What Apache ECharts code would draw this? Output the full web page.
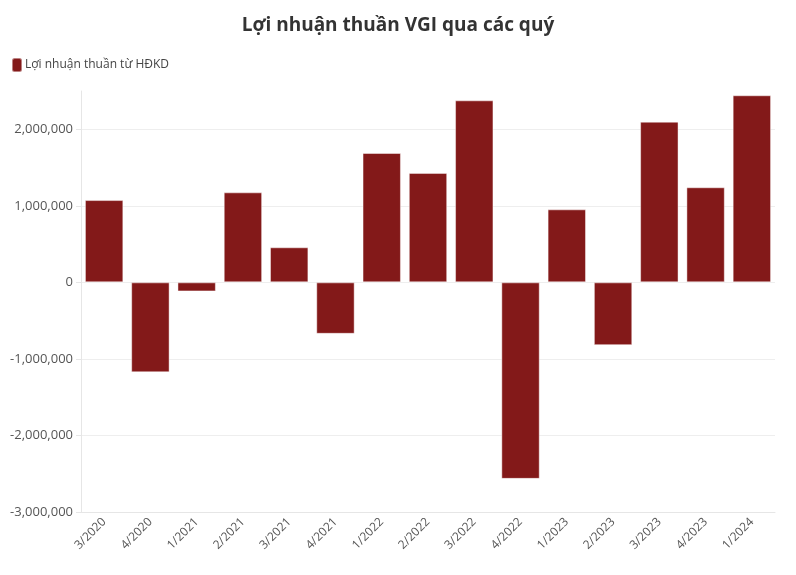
<!DOCTYPE html>
<html>
<head>
<meta charset="utf-8">
<script src="https://cdn.jsdelivr.net/npm/echarts@6/dist/echarts.min.js"></script>
<style>html,body{margin:0;padding:0;background:#fff}#c{width:796px;height:575px}</style>
</head>
<body>
<div id="c"></div>
<script>
var categories = ['3/2020','4/2020','1/2021','2/2021','3/2021','4/2021','1/2022','2/2022','3/2022','4/2022','1/2023','2/2023','3/2023','4/2023','1/2024'];
var profit = [1075000,-1175000,-118000,1176000,458000,-672000,1690000,1430000,2378000,-2567000,954000,-820000,2099000,1242000,2444000];
var seriesName = 'Lợi nhuận thuần từ HĐKD';
var titleText = 'Lợi nhuận thuần VGI qua các quý';

var chart = echarts.init(document.getElementById('c'));
var font = '"Open Sans", "Noto Sans", sans-serif';
chart.setOption({
  animation: false,
  textStyle: {fontFamily: font},
  title: {text: titleText, left: 'center', top: 11,
    textStyle: {fontSize: 19, fontWeight: 'bold', color: '#333', fontFamily: font}},
  legend: {data: [seriesName], left: 6, top: 52, itemWidth: 10, itemHeight: 14, itemGap: 4,
    icon: 'roundRect', textStyle: {fontSize: 12, color: '#444', fontFamily: font, padding: [0,0,0,-2]}},
  grid: {left: 81, right: 21, top: 91, bottom: 63, containLabel: false},
  xAxis: {
    type: 'category', data: categories,
    axisLine: {onZero: false, lineStyle: {color: '#e6e6e6'}},
    axisTick: {alignWithLabel: true, lineStyle: {color: '#e6e6e6'}, length: 5},
    axisLabel: {rotate: 45, color: '#555', fontSize: 12, margin: 8}
  },
  yAxis: {
    type: 'value', min: -3000000, max: 2500000, interval: 1000000,
    axisLine: {show: true, lineStyle: {color: '#e6e6e6'}},
    axisTick: {show: true, length: 5, lineStyle: {color: '#e6e6e6'}},
    splitLine: {show: true, showMaxLine: false, lineStyle: {color: '#eeeeee'}},
    axisLabel: {color: '#555', fontSize: 13, showMaxLabel: false,
      formatter: function (v) { return v.toLocaleString('en-US'); }}
  },
  series: [{
    name: seriesName, type: 'bar', data: profit, barCategoryGap: '17%',
    itemStyle: {color: '#831919', borderColor: 'rgba(255,255,255,0.45)', borderWidth: 1}
  }]
});
</script>
</body>
</html>
